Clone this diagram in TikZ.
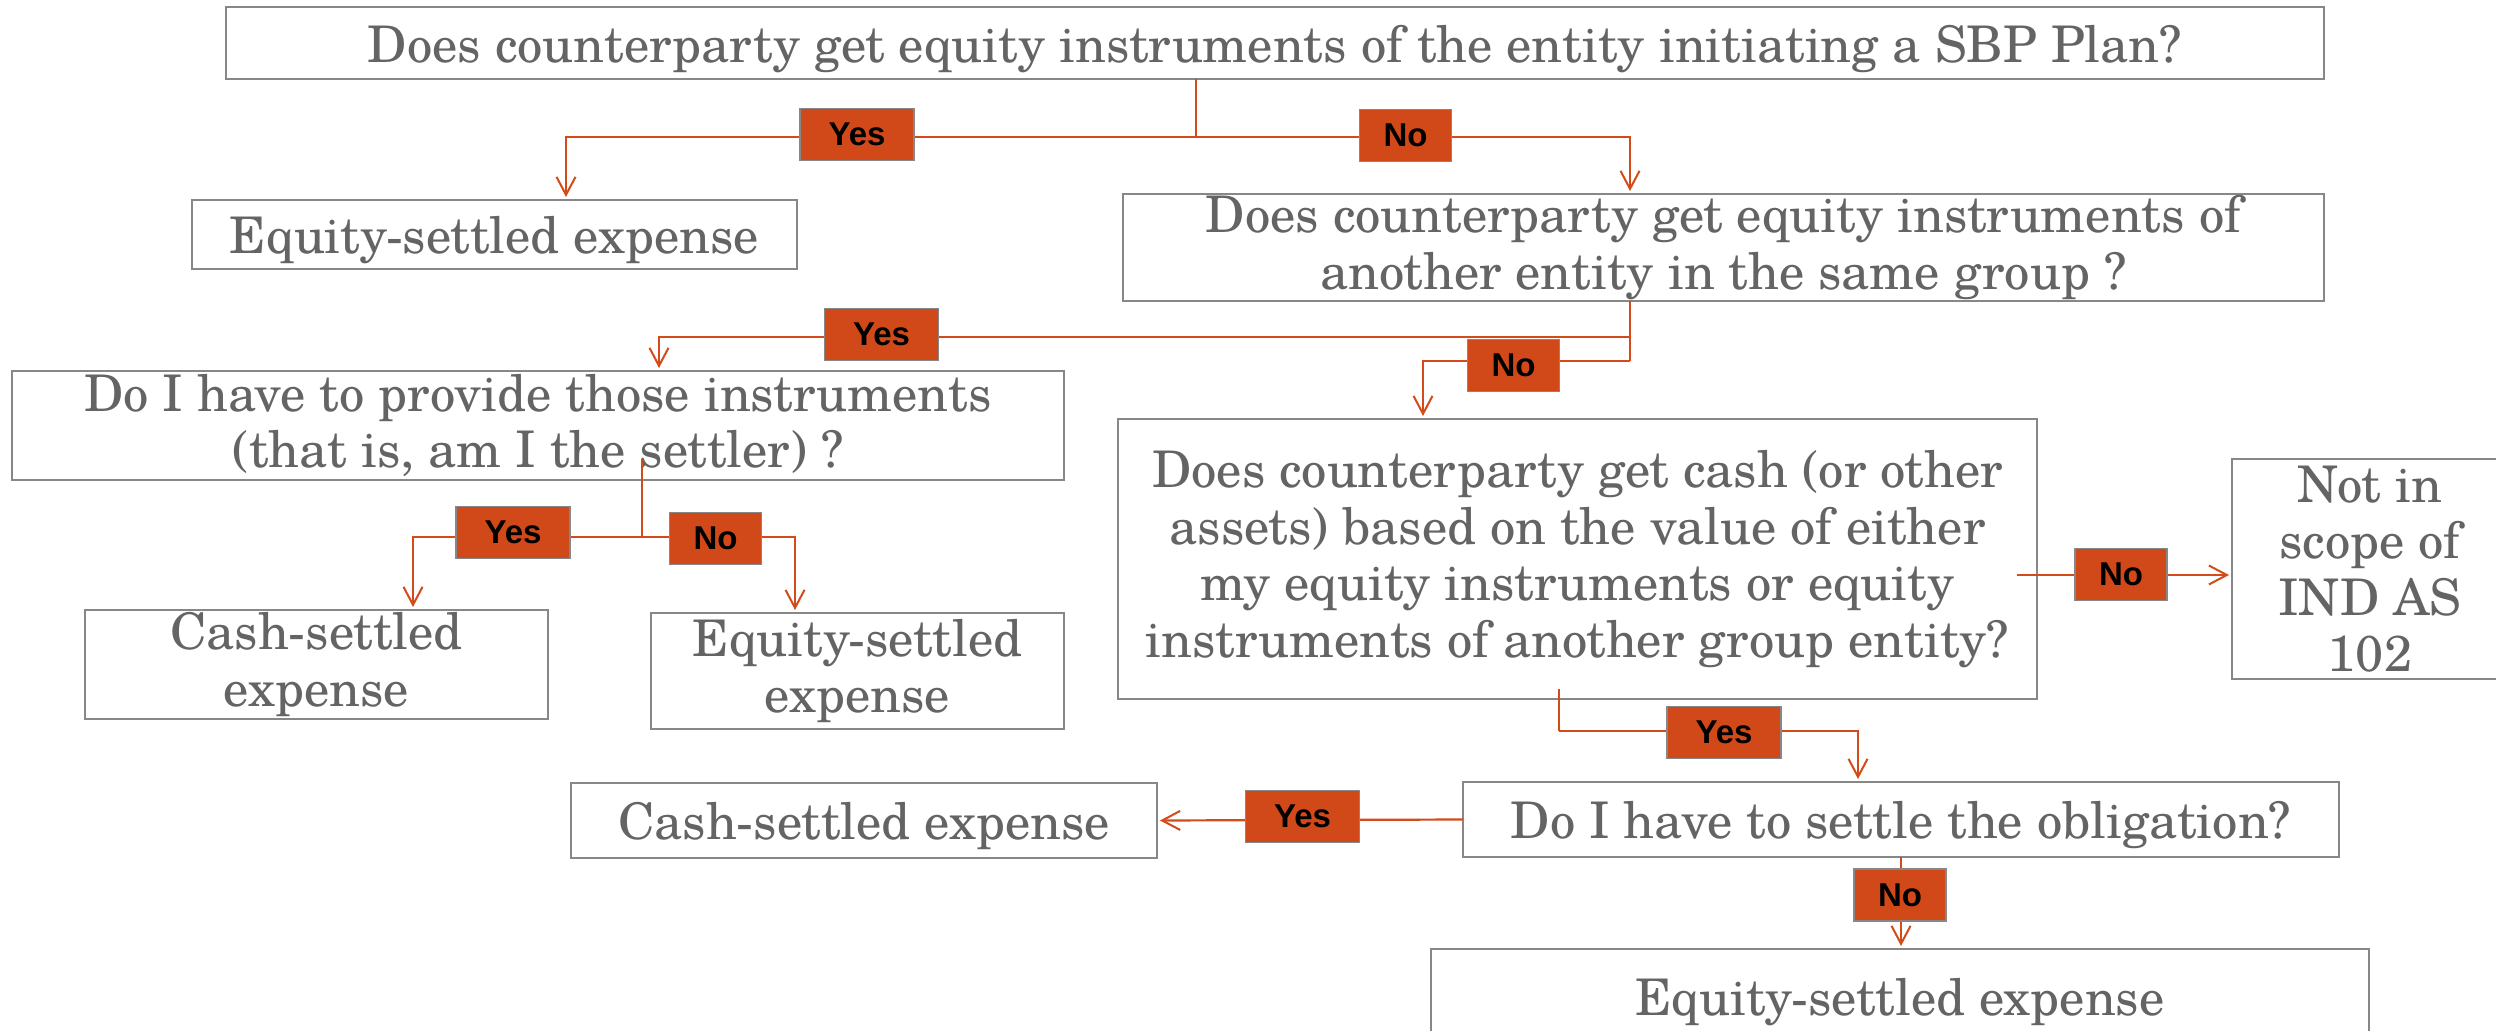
\documentclass[tikz,border=0pt]{standalone}
\usepackage{fontspec}
\setmainfont{texgyreschola-regular.otf}
\newfontfamily\lblfont{Liberation Sans}
\usetikzlibrary{arrows.meta}
\definecolor{linecol}{RGB}{210,75,25}
\definecolor{lblfill}{RGB}{209,73,24}
\definecolor{boxline}{RGB}{135,135,135}
\definecolor{txtcol}{RGB}{100,100,100}
\tikzset{
  box/.style={draw=boxline, line width=2pt, fill=white, anchor=north west, outer sep=0pt,
    inner sep=0pt, align=center, text=txtcol, font=\fontsize{50.5}{56.5}\selectfont,
    execute at begin node={\rule{0pt}{49pt}}},
  conn/.style={draw=linecol, line width=2.2pt},
  arr/.style={conn, -{Straight Barb[length=18pt,width=19pt,line width=2pt]}, shorten >=3pt},
  lbl/.style={fill=lblfill, draw=boxline, line width=1.8pt, inner sep=0pt, outer sep=0pt,
    text=black, font=\lblfont\bfseries\fontsize{33}{38}\selectfont},
  yes/.style={lbl, minimum width=114pt, minimum height=52pt},
  no/.style={lbl, minimum width=92pt, minimum height=52pt}
}
\begin{document}
\begin{tikzpicture}[x=1pt,y=-1pt]
\path[use as bounding box] (0,0) rectangle (2496,1030);
\begin{scope}
\clip (0,0) rectangle (2496,1030);
% boxes
\node[box, minimum width=2098pt, minimum height=72pt] (b1) at (226,7) {Does counterparty get equity instruments of the entity initiating a SBP Plan?};
\node[box, minimum width=605pt, minimum height=69pt] (b2) at (192,200) {Equity-settled expense};
\node[box, minimum width=1201pt, minimum height=107pt] (b3) at (1123,194) {Does counterparty get equity instruments of\\another entity in the same group ?};
\node[box, minimum width=1052pt, minimum height=109pt] (b4) at (12,371) {Do I have to provide those instruments\\(that is, am I the settler) ?};
\node[box, minimum width=919pt, minimum height=280pt] (b5) at (1118,419) {Does counterparty get cash (or other\\assets) based on the value of either\\my equity instruments or equity\\instruments of another group entity?};
\node[box, minimum width=276pt, minimum height=220pt] (b6) at (2232,459) {Not in\\scope of\\IND AS\\102};
\node[box, minimum width=463pt, minimum height=109pt] (b7) at (85,610) {Cash-settled\\expense};
\node[box, minimum width=413pt, minimum height=116pt] (b8) at (651,613) {Equity-settled\\expense};
\node[box, minimum width=586pt, minimum height=75pt] (b9) at (571,783) {Cash-settled expense};
\node[box, minimum width=876pt, minimum height=75pt] (b10) at (1463,782) {Do I have to settle the obligation?};
\node[box, minimum width=938pt, minimum height=94pt] (b11) at (1431,949) {Equity-settled expense};
% coordinates
\coordinate (j1) at (1196,137);
\coordinate (xa) at (566,0);
\coordinate (xb) at (1630,0);
\coordinate (j2) at (1630,337);
\coordinate (j3) at (1630,361);
\coordinate (xc) at (659,0);
\coordinate (xd) at (1423,0);
\coordinate (s3) at (642,459);
\coordinate (j4) at (642,537);
\coordinate (xe) at (413,0);
\coordinate (xf) at (795,0);
\coordinate (s4) at (2017,575);
\coordinate (s5) at (1559,689);
\coordinate (j5) at (1559,731);
\coordinate (xg) at (1858,0);
% connectors
\draw[conn] (b1.south -| j1) -- (j1);
\draw[arr] (j1) -| (b2.north -| xa);
\draw[arr] (j1) -| (b3.north -| xb);
\draw[conn] (b3.south -| xb) -- (j3);
\draw[arr] (j2) -| (b4.north -| xc);
\draw[arr] (j3) -| (b5.north -| xd);
\draw[conn] (s3) -- (j4);
\draw[arr] (j4) -| (b7.north -| xe);
\draw[arr] (j4) -| (b8.north -| xf);
\draw[arr] (s4) -- (b6.west |- s4);
\draw[conn] (s5) -- (j5);
\draw[arr] (j5) -| (b10.north -| xg);
\draw[arr] (b10.west) -- (b9.east);
\draw[arr] (b10.south) -- (b10.south |- b11.north);
% labels
\node[yes] (y1) at (857,134.5) {Yes};
\node[no] (n1) at (1405.5,135.5) {No};
\node[yes] (y2) at (881.5,334.5) {Yes};
\node[no] (n2) at (1513.5,365.5) {No};
\node[yes] (y3) at (513,532.5) {Yes};
\node[no] (n3) at (715.5,538.5) {No};
\node[no] (n4) at (2121,574.5) {No};
\node[yes] (y4) at (1724,732.5) {Yes};
\node[yes] (y5) at (1302.5,816.5) {Yes};
\node[no] (n5) at (1900,895) {No};
\end{scope}
\end{tikzpicture}
\end{document}
